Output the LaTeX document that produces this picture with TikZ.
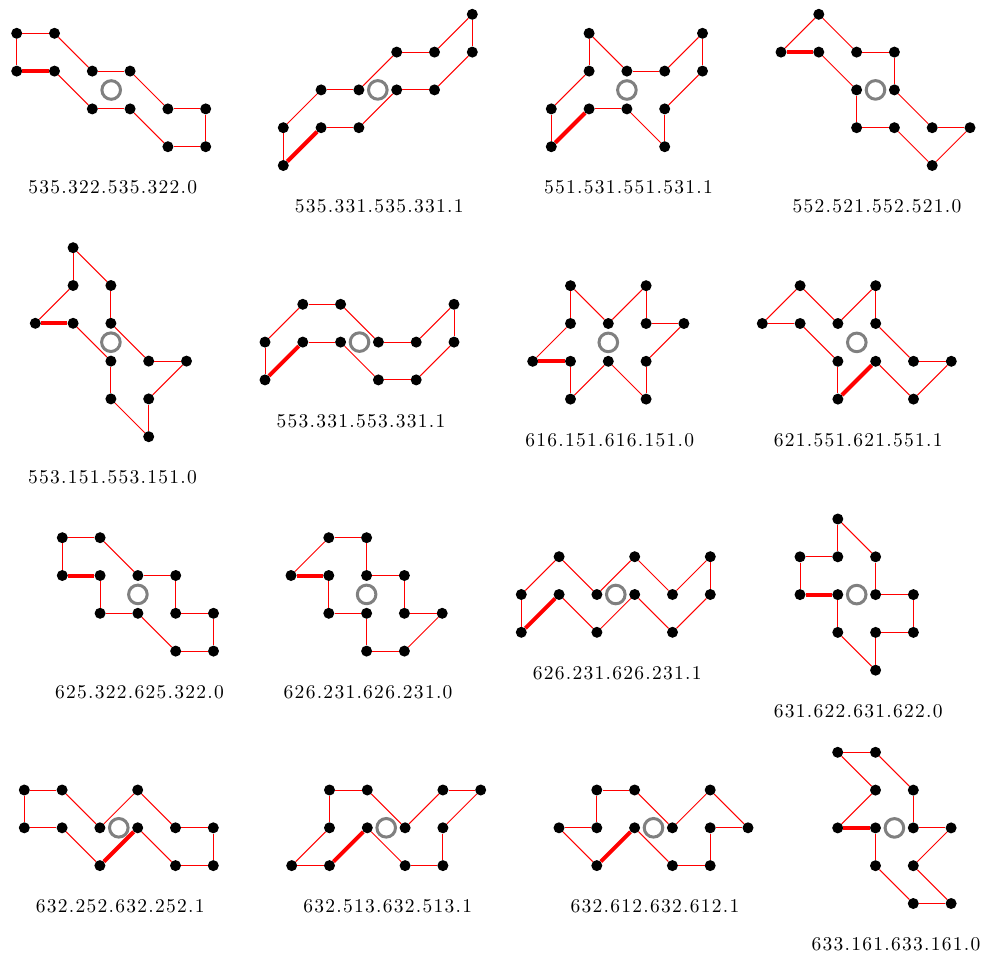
\documentclass[tikz,border=0pt]{standalone}
\usepackage{fontspec}
\newfontfamily\labfont[LetterSpace=6.5]{lmroman10-regular.otf}
\usetikzlibrary{calc}
\tikzset{
  dot/.style={circle,fill=black,inner sep=0pt,minimum size=11pt},
  ring/.style={circle,draw=gray,line width=3pt,inner sep=0pt,minimum size=18.6pt},
  edge/.style={red,line width=1pt},
  keyedge/.style={red,line width=4pt},
  lab/.style={inner sep=0pt,font=\labfont\fontsize{19.5}{22}\selectfont}
}
% #1 id, #2 origin (px), #3 vertex list i/j, #4 centre (grid), #5 lowest row, #6 label
\newcommand\polypanel[6]{%
  \begin{scope}[shift={(#2)},x=37.8pt,y=-37.8pt]
    \foreach \i/\j [count=\k] in {#3} \node[dot] (#1-\k) at (\i,\j) {};
    \foreach \a in {2,...,11} {\pgfmathtruncatemacro\nxt{\a+1}\draw[edge] (#1-\a) -- (#1-\nxt);}
    \draw[edge] (#1-12) -- (#1-1);
    \draw[keyedge] (#1-1) -- (#1-2);
    \node[ring] (#1-c) at (#4) {};
    \coordinate (#1-b) at (0,#5);
    \node[lab] (#1-l) at ($(#1-c |- #1-b)+(1.5pt,-41pt)$) {#6};
  \end{scope}}
\begin{document}
\begin{tikzpicture}[x=1pt,y=-1pt]
\useasboundingbox[fill=white] (0,0) rectangle (983,958);
\polypanel{pa}{16.7,33.3}{0/1,1/1,2/2,3/2,4/3,5/3,5/2,4/2,3/1,2/1,1/0,0/0}{2.5,1.5}{3}{535.322.535.322.0}
\polypanel{pb}{283.3,14.3}{0/4,1/3,2/3,3/2,4/2,5/1,5/0,4/1,3/1,2/2,1/2,0/3}{2.5,2}{4}{535.331.535.331.1}
\polypanel{pc}{551.3,33.3}{0/3,1/2,2/2,3/3,3/2,4/1,4/0,3/1,2/1,1/0,1/1,0/2}{2,1.5}{3}{551.531.551.531.1}
\polypanel{pd}{781,14.3}{0/1,1/1,2/2,2/3,3/3,4/4,5/3,4/3,3/2,3/1,2/1,1/0}{2.5,2}{4}{552.521.552.521.0}
\polypanel{pe}{35.3,247.7}{0/2,1/2,2/3,2/4,3/5,3/4,4/3,3/3,2/2,2/1,1/0,1/1}{2,2.5}{5}{553.151.553.151.0}
\polypanel{pf}{265,304.3}{0/2,1/1,2/1,3/2,4/2,5/1,5/0,4/1,3/1,2/0,1/0,0/1}{2.5,1}{2}{553.331.553.331.1}
\polypanel{pg}{532.7,285.7}{0/2,1/2,1/3,2/2,3/3,3/2,4/1,3/1,3/0,2/1,1/0,1/1}{2,1.5}{3}{616.151.616.151.0}
\polypanel{ph}{762.3,285.7}{2/3,3/2,4/3,5/2,4/2,3/1,3/0,2/1,1/0,0/1,1/1,2/2}{2.5,1.5}{3}{621.551.621.551.1}
\polypanel{pi}{62.3,537.7}{0/1,1/1,1/2,2/2,3/3,4/3,4/2,3/2,3/1,2/1,1/0,0/0}{2,1.5}{3}{625.322.625.322.0}
\polypanel{pj}{291,537.7}{0/1,1/1,1/2,2/2,2/3,3/3,4/2,3/2,3/1,2/1,2/0,1/0}{2,1.5}{3}{626.231.626.231.0}
\polypanel{pk}{521.3,556.7}{0/2,1/1,2/2,3/1,4/2,5/1,5/0,4/1,3/0,2/1,1/0,0/1}{2.5,1}{2}{626.231.626.231.1}
\polypanel{pl}{800,519}{0/2,1/2,1/3,2/4,2/3,3/3,3/2,2/2,2/1,1/0,1/1,0/1}{1.5,2}{4}{631.622.631.622.0}
\polypanel{pm}{24.3,790}{2/2,3/1,4/2,5/2,5/1,4/1,3/0,2/1,1/0,0/0,0/1,1/1}{2.5,1}{2}{632.252.632.252.1}
\polypanel{pn}{291.7,790}{1/2,2/1,3/2,4/2,4/1,5/0,4/0,3/1,2/0,1/0,1/1,0/2}{2.5,1}{2}{632.513.632.513.1}
\polypanel{po}{559,790}{1/2,2/1,3/2,4/2,4/1,5/1,4/0,3/1,2/0,1/0,1/1,0/1}{2.5,1}{2}{632.612.632.612.1}
\polypanel{pp}{837.7,752.3}{0/2,1/2,1/3,2/4,3/4,2/3,3/2,2/2,2/1,1/0,0/0,1/1}{1.5,2}{4}{633.161.633.161.0}
\end{tikzpicture}
\end{document}
